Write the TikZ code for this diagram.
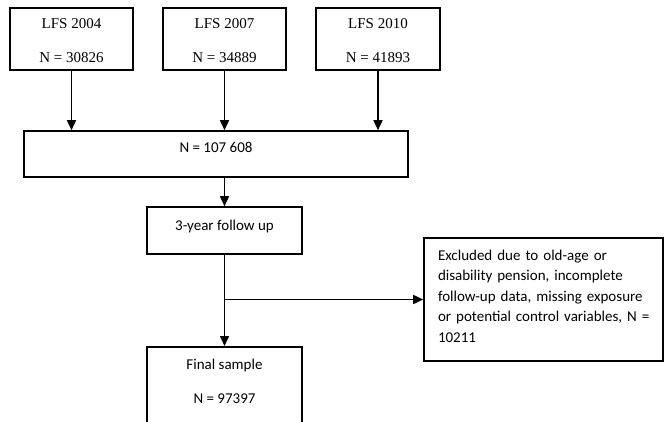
\documentclass[tikz,border=0pt]{standalone}
\usepackage{fontspec}
\setmainfont{Liberation Serif}
\newfontfamily\calib{Carlito}
\usetikzlibrary{arrows.meta}
\tikzstyle{srcbox}=[draw,line width=1.6pt,rectangle,minimum width=123pt,inner xsep=0pt,inner ysep=0pt,text height=55pt,text depth=7pt,align=center,font=\fontsize{15}{34}\selectfont]
\tikzstyle{stepbox}=[draw,line width=1.6pt,rectangle,inner xsep=0pt,inner ysep=0pt,align=center,font=\calib\fontsize{15}{34}\selectfont]
\tikzstyle{arr}=[line width=1.6pt,-{Triangle[length=10pt,width=9pt]}]

\begin{document}
\begin{tikzpicture}[x=1pt,y=-1pt]
    \useasboundingbox (0,0) rectangle (664,422);
    \node[srcbox] (lfsA) at (71.5,39) {LFS 2004\\N = 30826};
    \node[srcbox] (lfsB) at (224.5,39) {LFS 2007\\N = 34889};
    \node[srcbox,minimum width=124pt] (lfsC) at (378,39) {LFS 2010\\N = 41893};
    \node[stepbox,minimum width=384pt,text height=22pt,text depth=24pt] (pool) at (216,154) {N = 107 608};
    \node[stepbox,minimum width=155pt,text height=23pt,text depth=24pt] (follow) at (224.5,230.5) {3-year follow up};
    \node[stepbox,minimum width=155pt,text height=57pt,text depth=60pt,anchor=north] (final) at (224.5,346) {Final sample\\N = 97397};
    \node[stepbox,inner xsep=14pt,text width=211pt,align=left,text height=22pt,text depth=101pt,font=\calib\fontsize{15}{20.5}\selectfont] (excl) at (543.5,299.5)
        {Excluded due to old-age or\\disability pension, incomplete\\follow-up data, missing exposure\\\mbox{or potential control variables, N =}\\10211};
    \coordinate (split) at (follow |- excl);

    \foreach \src in {lfsA,lfsB,lfsC}
    \draw[arr] (\src) -- (\src |- pool.north);
    \draw[arr] (follow |- pool.south) -- (follow.north);
    \draw[arr] (follow.south) -- (final.north);
    \draw[arr] (split) -- (excl.west);
\end{tikzpicture}
\end{document}
